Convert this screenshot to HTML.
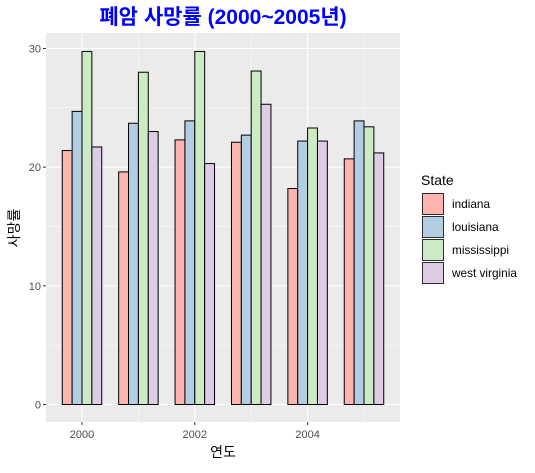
<!DOCTYPE html>
<html><head><meta charset="utf-8"><style>
body{margin:0;background:#fff;}
svg text{font-family:"Liberation Sans","Noto Sans CJK KR",sans-serif;}
</style></head><body>
<svg id="c" width="535" height="468" xmlns="http://www.w3.org/2000/svg">
<text x="223" y="24" text-anchor="middle" font-size="21" font-weight="bold" fill="#0000FF">폐암 사망률 (2000~2005년)</text>
<rect x="46" y="33" width="354" height="389" fill="#EBEBEB"/>
<g id="grid"></g><g id="bars"></g><g id="axes"></g>
<text x="223" y="457" text-anchor="middle" font-size="14" fill="#000">연도</text>
<text transform="translate(19,228) rotate(-90)" text-anchor="middle" font-size="14" fill="#000">사망률</text>
<text x="421" y="185" font-size="14" fill="#000">State</text>
<g id="legend"></g>
</svg>
<script>
const years=[2000,2001,2002,2003,2004,2005];
const states=["indiana","louisiana","mississippi","west virginia"];
const indiana=[21.4,19.6,22.3,22.1,18.2,20.7];
const louisiana=[24.7,23.7,23.9,22.7,22.2,23.9];
const mississippi=[29.75,28.0,29.75,28.1,23.3,23.4];
const westVirginia=[21.7,23.0,20.3,25.3,22.2,21.2];
const yTicks=[0,10,20,30];
const xTicks=[2000,2002,2004];
const series=[indiana,louisiana,mississippi,westVirginia];
const colors=["#FBB4AE","#B3CDE3","#CCEBC5","#DECBE4"];
const NS="http://www.w3.org/2000/svg";
const X=v=>82+(v-2000)*56.4;
const Y=v=>404.5-v*11.867;
const pL=46,pR=400,pT=33,pB=422;
function mk(tag,attrs,parent){const e=document.createElementNS(NS,tag);for(const k in attrs)e.setAttribute(k,attrs[k]);document.getElementById(parent).appendChild(e);return e;}
for(let v=5;v<=30;v+=10){const l=mk("line",{x1:pL,x2:pR,y1:Y(v),y2:Y(v),stroke:"#fff","stroke-width":0.5},"grid");

}
for(let v=2001;v<=2005;v+=2){const l=mk("line",{x1:X(v),x2:X(v),y1:pT,y2:pB,stroke:"#fff","stroke-width":0.5},"grid");

}
yTicks.forEach(v=>{const l=mk("line",{x1:pL,x2:pR,y1:Y(v),y2:Y(v),stroke:"#fff","stroke-width":1.1},"grid");


const t=mk("line",{x1:pL-3,x2:pL,y1:Y(v),y2:Y(v),stroke:"#333"},"axes");


const tx=mk("text",{x:pL-5,y:Y(v)+4,"text-anchor":"end","font-size":"11",fill:"#4D4D4D"},"axes");tx.textContent=v;

});
xTicks.forEach(v=>{const l=mk("line",{x1:X(v),x2:X(v),y1:pT,y2:pB,stroke:"#fff","stroke-width":1.1},"grid");


const t=mk("line",{x1:X(v),x2:X(v),y1:pB,y2:pB+3,stroke:"#333"},"axes");


const tx=mk("text",{x:X(v),y:pB+16,"text-anchor":"middle","font-size":"11",fill:"#4D4D4D"},"axes");tx.textContent=v;

});
const bw=56.4*0.7/4;
years.forEach((yr,i)=>{series.forEach((s,j)=>{const x0=X(yr)-56.4*0.35+j*bw;
const r=mk("rect",{x:x0,y:Y(s[i]),width:bw,height:Y(0)-Y(s[i]),fill:colors[j],stroke:"#000","stroke-width":1},"bars");

});});
states.forEach((s,j)=>{const y0=193+j*23;
const r=mk("rect",{x:422.5,y:y0+0.5,width:21,height:21,fill:colors[j],stroke:"#000","stroke-width":0.8},"legend");


const t=mk("text",{x:452,y:y0+15,"font-size":"11.8",fill:"#000"},"legend");t.textContent=s;

});
</script>
</body></html>
